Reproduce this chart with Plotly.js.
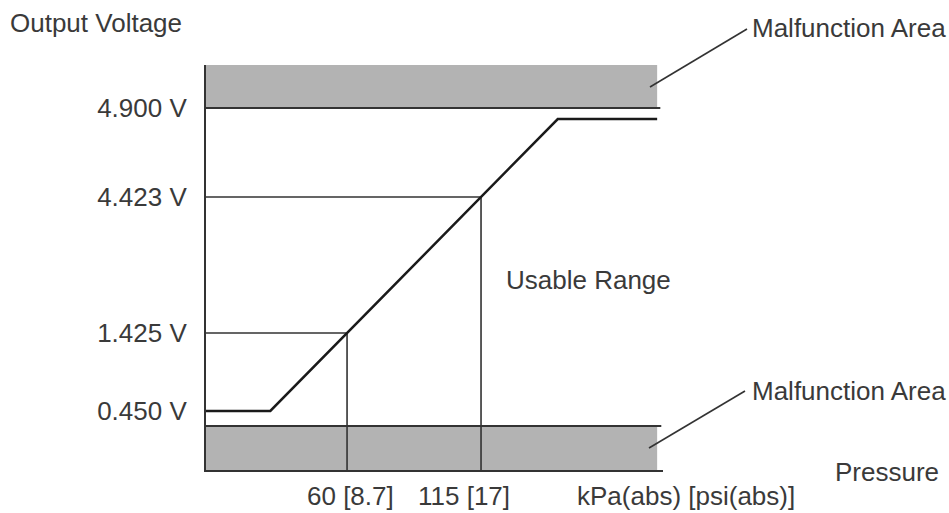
<!DOCTYPE html>
<html>
<head>
<meta charset="utf-8">
<script src="https://cdn.plot.ly/plotly-3.0.1.min.js"></script>
<style>html,body{margin:0;padding:0;background:#fff;}#chart{width:949px;height:513px;}</style>
</head>
<body>
<div id="chart"></div>
<script>
// ---- data (schematic: x in kPa, y in schematic output levels) ----
const xRange = [2.1, 189.7];
const yRange = [0, 405];
const curvePressure = [2.1, 28.5, 146.5, 187.3];
const curveLevel = [59, 59, 351, 351];
const levelPos = [59, 137, 273, 362];
const levelLabels = ['0.450 V', '1.425 V', '4.423 V', '4.900 V'];
const guidePressure = [60, 115];
const guideLevel = [137, 273];
const pressureLabels = ['60 [8.7]', '115 [17]'];
const bandLow = [0, 44];
const bandHigh = [362, 405];
const bandEnd = 187.3;

const txt = '#3a3a3a', ln = '#333333';
const FONT = 'Liberation Sans, Arial, sans-serif';

const traces = [];
// guide lines
for (let i = 0; i < guidePressure.length; i++) {
  traces.push({
    x: [xRange[0], guidePressure[i], guidePressure[i]],
    y: [guideLevel[i], guideLevel[i], yRange[0]],
    mode: 'lines', line: {color: ln, width: 1.6}, hoverinfo: 'skip'
  });
}
// transfer curve
traces.push({
  x: curvePressure, y: curveLevel, mode: 'lines',
  line: {color: '#1a1a1a', width: 2.5}, hoverinfo: 'skip'
});

const W = 457, H = 405, L = 206, T = 65;
const px = v => (v - L) / W;
const py = v => (T + H - v) / H;

const shapes = [
  {type: 'rect', xref: 'x', yref: 'y', x0: xRange[0], x1: bandEnd, y0: bandHigh[0], y1: bandHigh[1],
   fillcolor: '#b3b3b3', line: {width: 0}, layer: 'below'},
  {type: 'rect', xref: 'x', yref: 'y', x0: xRange[0], x1: bandEnd, y0: bandLow[0], y1: bandLow[1],
   fillcolor: '#b3b3b3', line: {width: 0}, layer: 'below'},
  {type: 'line', xref: 'x', yref: 'y', x0: xRange[0], x1: 188.6, y0: bandHigh[0], y1: bandHigh[0],
   line: {color: ln, width: 2}},
  {type: 'line', xref: 'x', yref: 'y', x0: xRange[0], x1: 189.0, y0: bandLow[1], y1: bandLow[1],
   line: {color: ln, width: 2}},
  // leader lines
  {type: 'line', xref: 'paper', yref: 'paper', x0: px(650), y0: py(87), x1: px(747), y1: py(29),
   line: {color: ln, width: 1.6}},
  {type: 'line', xref: 'paper', yref: 'paper', x0: px(649), y0: py(448), x1: px(745), y1: py(391),
   line: {color: ln, width: 1.6}}
];

const f = {family: FONT, size: 26, color: txt};
const ann = (text, x, y, xanchor) => ({text, x: px(x), y: py(y), xref: 'paper', yref: 'paper',
  xanchor, yanchor: 'middle', showarrow: false, font: f});

const annotations = [
  ann('Output Voltage', 8, 23, 'left'),
  ann('Malfunction Area', 750, 28, 'left'),
  ann('Malfunction Area', 750, 391, 'left'),
  ann('Usable Range', 504, 280, 'left'),
  ann('Pressure', 833, 472, 'left'),
  ann('kPa(abs) [psi(abs)]', 575, 496, 'left'),
  {text: pressureLabels[0], x: guidePressure[0], y: py(496), xref: 'x', yref: 'paper', xshift: 3,
   xanchor: 'center', yanchor: 'middle', showarrow: false, font: f},
  {text: pressureLabels[1], x: guidePressure[1], y: py(496), xref: 'x', yref: 'paper', xshift: -17,
   xanchor: 'center', yanchor: 'middle', showarrow: false, font: f}
];

const layout = {
  width: 949, height: 513,
  margin: {l: L, r: 949 - L - W, t: T, b: 513 - T - H, pad: 0},
  paper_bgcolor: '#ffffff', plot_bgcolor: '#ffffff',
  showlegend: false,
  font: f,
  xaxis: {range: xRange, showgrid: false, zeroline: false, showline: true, linecolor: ln, linewidth: 2,
          ticks: '', showticklabels: false, fixedrange: true},
  yaxis: {range: yRange, showgrid: false, zeroline: false, showline: true, linecolor: ln, linewidth: 2,
          ticks: '', tickvals: levelPos, ticktext: levelLabels, ticklabelstandoff: 12,
          tickfont: f, fixedrange: true},
  shapes, annotations
};

Plotly.newPlot('chart', traces, layout, {displayModeBar: false, staticPlot: true});
</script>
</body>
</html>
